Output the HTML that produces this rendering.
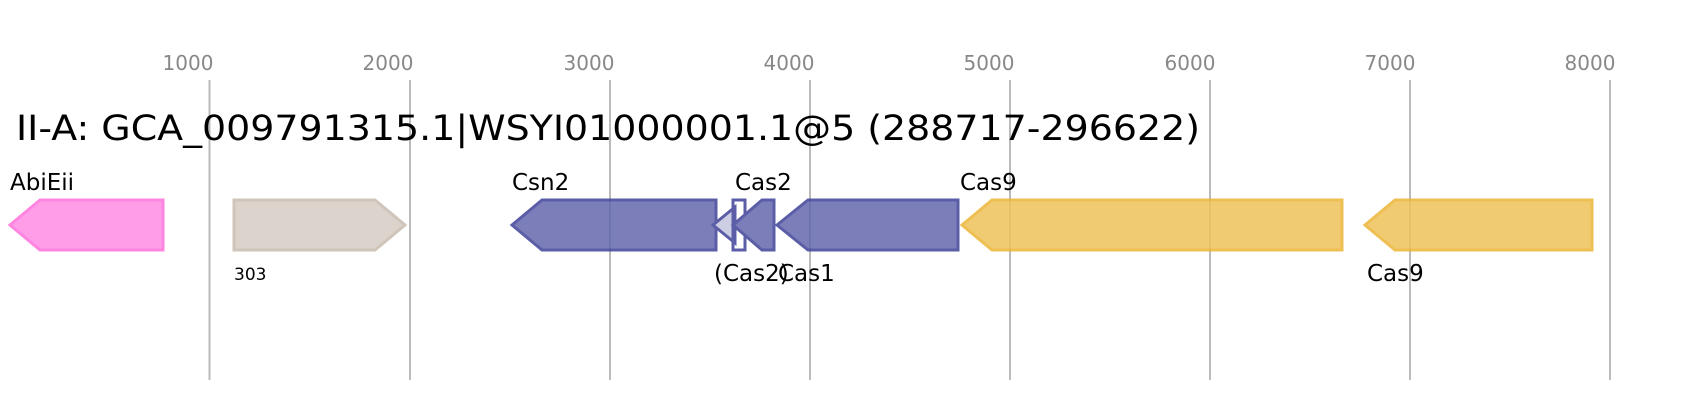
<!DOCTYPE html>
<html><head><meta charset="utf-8"><style>html,body{margin:0;padding:0;background:#fff}svg{display:block}</style></head>
<body>
<svg width="1681" height="400" xmlns="http://www.w3.org/2000/svg" font-family="DejaVu Sans, Liberation Sans, sans-serif">
<rect width="1681" height="400" fill="#fff"/>
<g stroke="#bbb" stroke-width="2">
<line x1="209.5" y1="80" x2="209.5" y2="380"/>
<line x1="410" y1="80" x2="410" y2="380"/>
<line x1="610" y1="80" x2="610" y2="380"/>
<line x1="810" y1="80" x2="810" y2="380"/>
<line x1="1010" y1="80" x2="1010" y2="380"/>
<line x1="1210" y1="80" x2="1210" y2="380"/>
<line x1="1410" y1="80" x2="1410" y2="380"/>
<line x1="1610" y1="80" x2="1610" y2="380"/>
</g>
<g fill="#888" font-size="20" text-anchor="middle">
<text x="188" y="70">1000</text><text x="388" y="70">2000</text><text x="589" y="70">3000</text><text x="789" y="70">4000</text><text x="989" y="70">5000</text><text x="1190" y="70">6000</text><text x="1390" y="70">7000</text><text x="1590" y="70">8000</text>
</g>
<text x="16" y="140" font-size="35" fill="#000" textLength="1184" lengthAdjust="spacingAndGlyphs">II-A: GCA_009791315.1|WSYI01000001.1@5 (288717-296622)</text>
<g stroke-width="3" opacity="0.85">
<polygon points="10,225 40,200 163,200 163,250 40,250" fill="#ff8ce4" stroke="#ff70dc"/>
<polygon points="234,200 375,200 405,225 375,250 234,250" fill="#d6ccc4" stroke="#c8bcb0"/>
<polygon points="512,225 542,200 716,200 716,250 542,250" fill="#6468ac" stroke="#3f4398"/>
<polygon points="713,225 735,207 735,243" fill="#c4c6e0" stroke="#3f4398"/>
<rect x="733" y="200" width="12" height="50" fill="none" stroke="#3f4398"/>
<polygon points="733,225 762,200 774,200 774,250 762,250" fill="#6468ac" stroke="#3f4398"/>
<polygon points="777,225 808,200 958,200 958,250 808,250" fill="#6468ac" stroke="#3f4398"/>
<polygon points="962,225 992,200 1342,200 1342,250 992,250" fill="#efc35a" stroke="#ecb434"/>
<polygon points="1365,225 1395,200 1592,200 1592,250 1395,250" fill="#efc35a" stroke="#ecb434"/>
</g>
<g fill="#000" font-size="23">
<text x="10" y="190">AbiEii</text>
<text x="512" y="190">Csn2</text>
<text x="735" y="190">Cas2</text>
<text x="960" y="190">Cas9</text>
<text x="714" y="281">(Cas2)</text>
<text x="778" y="281">Cas1</text>
<text x="1367" y="281">Cas9</text>
<text x="234" y="280" font-size="17">303</text>
</g>
</svg>
</body></html>
